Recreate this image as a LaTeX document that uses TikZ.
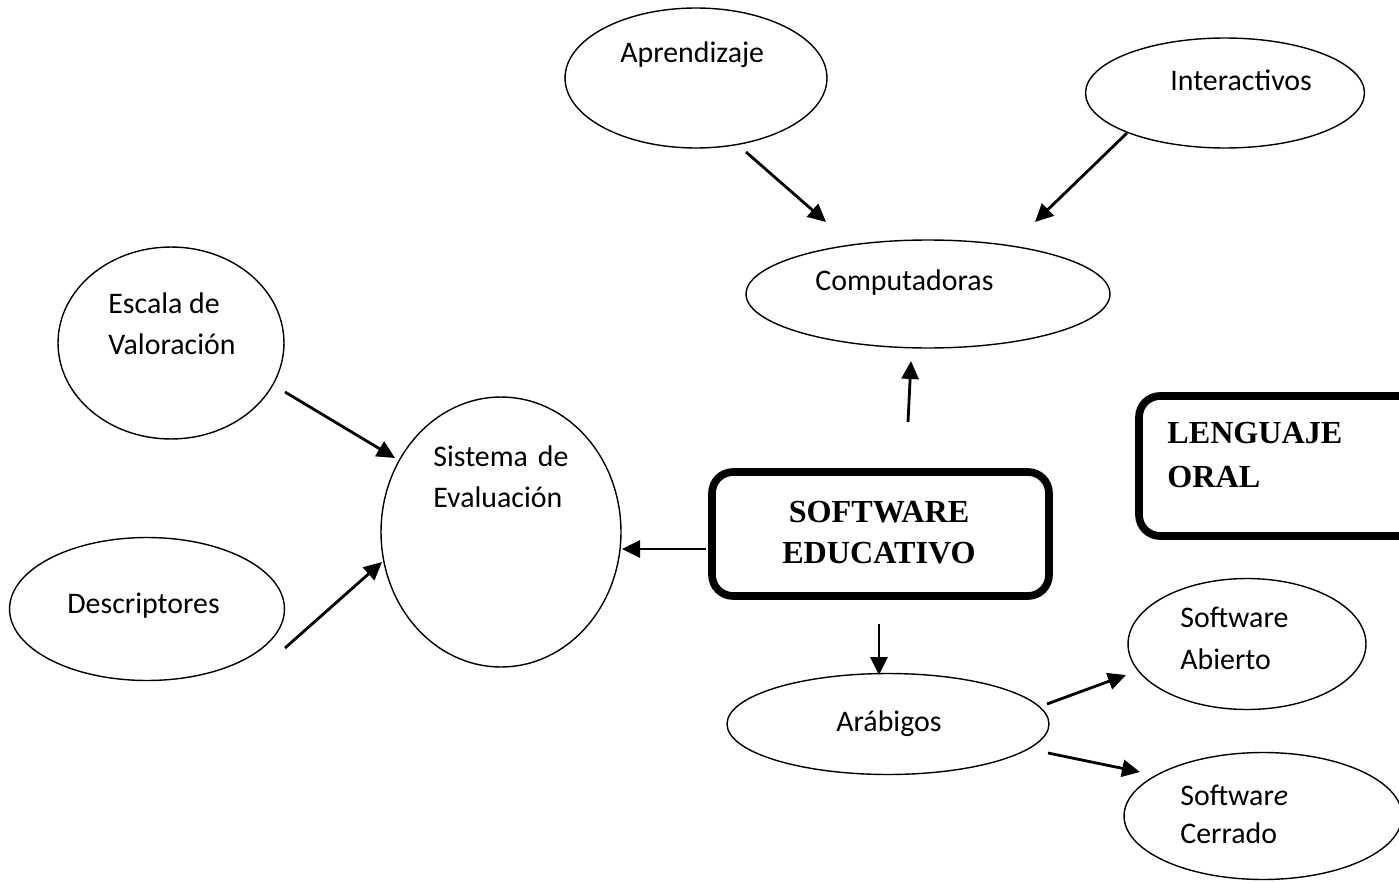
\documentclass[tikz,border=0pt]{standalone}
\usepackage{fontspec}
\setmainfont{Carlito}
\newfontfamily\timesf{Liberation Serif}
\usetikzlibrary{shapes.geometric,arrows.meta}
\tikzset{
  ell/.style={draw, ellipse, line width=0.8pt, inner sep=0pt},
  arr/.style={-{Triangle[length=0.36cm,width=0.34cm]}, line width=1.6pt},
  bigbox/.style={draw, rounded corners=0.42cm, line width=4.4pt, inner sep=0pt},
  lbl/.style={anchor=base west, inner sep=0pt, font=\fontsize{17}{20}\selectfont},
  blbl/.style={anchor=base, inner sep=0pt, font=\timesf\bfseries\fontsize{18.3}{22}\selectfont},
}
\begin{document}
\begin{tikzpicture}[x=0.02cm,y=-0.02cm]
\useasboundingbox (0,0) rectangle (1399,882);
% ellipses
\node[ell, minimum width=5.24cm, minimum height=2.8cm] (apr) at (696,78) {};
\node[ell, minimum width=5.58cm, minimum height=2.2cm] (int) at (1225,93) {};
\node[ell, minimum width=7.28cm, minimum height=2.16cm] (comp) at (928,294) {};
\node[ell, minimum width=4.52cm, minimum height=3.84cm] (esc) at (171,343) {};
\node[ell, minimum width=4.8cm, minimum height=5.4cm] (sis) at (501,532) {};
\node[ell, minimum width=5.5cm, minimum height=2.86cm] (des) at (147,609) {};
\node[ell, minimum width=4.76cm, minimum height=2.62cm] (abi) at (1247,644) {};
\node[ell, minimum width=6.44cm, minimum height=2.02cm] (ara) at (888,724) {};
\node[ell, minimum width=5.56cm, minimum height=2.54cm] (cer) at (1263,816) {};
% boxes
\node[bigbox, minimum width=6.74cm, minimum height=2.48cm] (se) at (880.5,534) {};
\node[bigbox, minimum width=6.42cm, minimum height=2.8cm] (lo) at (1299.5,466) {};
% texts
\node[lbl] (tapr) at (620,63) {Aprendizaje};
\node[lbl] (tint) at (1170,91) {Interactivos};
\node[lbl] (tcomp) at (815,290) {Computadoras};
\node[lbl] (tesc1) at (108,313) {Escala de};
\node[lbl] (tesc2) at (108,354) {Valoración};
\node[lbl] (tsis1) at (433,466) {Sistema\hspace{0.33em}de};
\node[lbl] (tsis2) at (433,507) {Evaluación};
\node[lbl] (tdes) at (67,613) {Descriptores};
\node[lbl] (tabi1) at (1180,627) {Software};
\node[lbl] (tabi2) at (1180,669) {Abierto};
\node[lbl] (tara) at (836,731) {Arábigos};
\node[lbl] (tcer1) at (1180,805) {Softwar\textit{e}};
\node[lbl] (tcer2) at (1180,843) {Cerrado};
\node[blbl] (tse1) at (879,522) {SOFTWARE};
\node[blbl] (tse2) at (879,563) {EDUCATIVO};
\node[blbl, anchor=base west] (tlo1) at (1167,443) {LENGUAJE};
\node[blbl, anchor=base west] (tlo2) at (1167,487) {ORAL};
% arrow endpoints
\coordinate (a1s) at (746,152); \coordinate (a1e) at (826,222);
\coordinate (a2s) at (1127,133); \coordinate (a2e) at (1035,222);
\coordinate (a3s) at (908,422); \coordinate (a3e) at (911,361);
\coordinate (a4s) at (285,392); \coordinate (a4e) at (395,458);
\coordinate (a5s) at (285,648); \coordinate (a5e) at (382,562);
\coordinate (a6s) at (706,549); \coordinate (a6e) at (622,549);
\coordinate (a7s) at (879,624); \coordinate (a7e) at (879,675);
\coordinate (a8s) at (1047,704); \coordinate (a8e) at (1126,675);
\coordinate (a9s) at (1048,753); \coordinate (a9e) at (1140,772);
\draw[arr] (a1s) -- (a1e);
\draw[arr] (a2s) -- (a2e);
\draw[arr] (a3s) -- (a3e);
\draw[arr] (a4s) -- (a4e);
\draw[arr] (a5s) -- (a5e);
\draw[arr] (a6s) -- (a6e);
\draw[arr] (a7s) -- (a7e);
\draw[arr] (a8s) -- (a8e);
\draw[arr] (a9s) -- (a9e);
\end{tikzpicture}
\end{document}
